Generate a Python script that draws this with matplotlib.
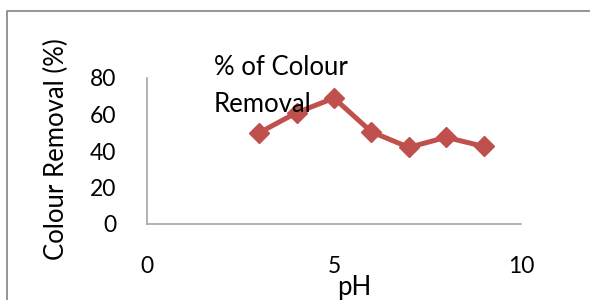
import matplotlib
matplotlib.use("Agg")
import matplotlib.pyplot as plt
from matplotlib.lines import Line2D

ph = [3, 4, 5, 6, 7, 8, 9]
removal = [50, 61, 69, 50.5, 42, 47.5, 42.5]
x_ticks = [0, 5, 10]
y_ticks = [0, 20, 40, 60, 80]

plt.rcParams["font.family"] = ["Lato", "DejaVu Sans"]
RED = "#C0504D"
W, H = 590, 300

fig = plt.figure(figsize=(W / 100, H / 100), dpi=100)
# outer chart frame: only top and left edges are visible in the crop
fx, fy = 7 / W, 1 - 11 / H
fig.lines.append(Line2D([fx, fx, 1.0], [0.0, fy, fy], transform=fig.transFigure,
                        color="#8c8c8c", linewidth=1.3))

ax = fig.add_axes([147 / W, 1 - 224 / H, (521 - 147) / W, (224 - 78) / H])
ax.plot(ph, removal, color=RED, linewidth=3.6, marker="D", markersize=10.5,
        markerfacecolor=RED, markeredgecolor=RED)
ax.set_xlim(0, 10)
ax.set_ylim(0, 80)
ax.set_xticks(x_ticks)
ax.set_yticks(y_ticks)
ax.tick_params(length=0, labelsize=16.5)
ax.tick_params(axis="x", pad=23)
ax.tick_params(axis="y", pad=22)
for s in ("top", "right"):
    ax.spines[s].set_visible(False)
for s in ("left", "bottom"):
    ax.spines[s].set_color("#a6a6a6")
    ax.spines[s].set_linewidth(1.2)

fig.text(56 / W, 1 - 149 / H, "Colour Removal (%)", rotation=90,
         ha="center", va="center", fontsize=18.5)
fig.text(354 / W, 1 - 288 / H, "pH", ha="center", va="center", fontsize=18.5)
fig.text(214 / W, 1 - 86 / H, "% of Colour\nRemoval", ha="left", va="center",
         fontsize=18.5, linespacing=1.6)

fig.savefig("out.png", dpi=100)
